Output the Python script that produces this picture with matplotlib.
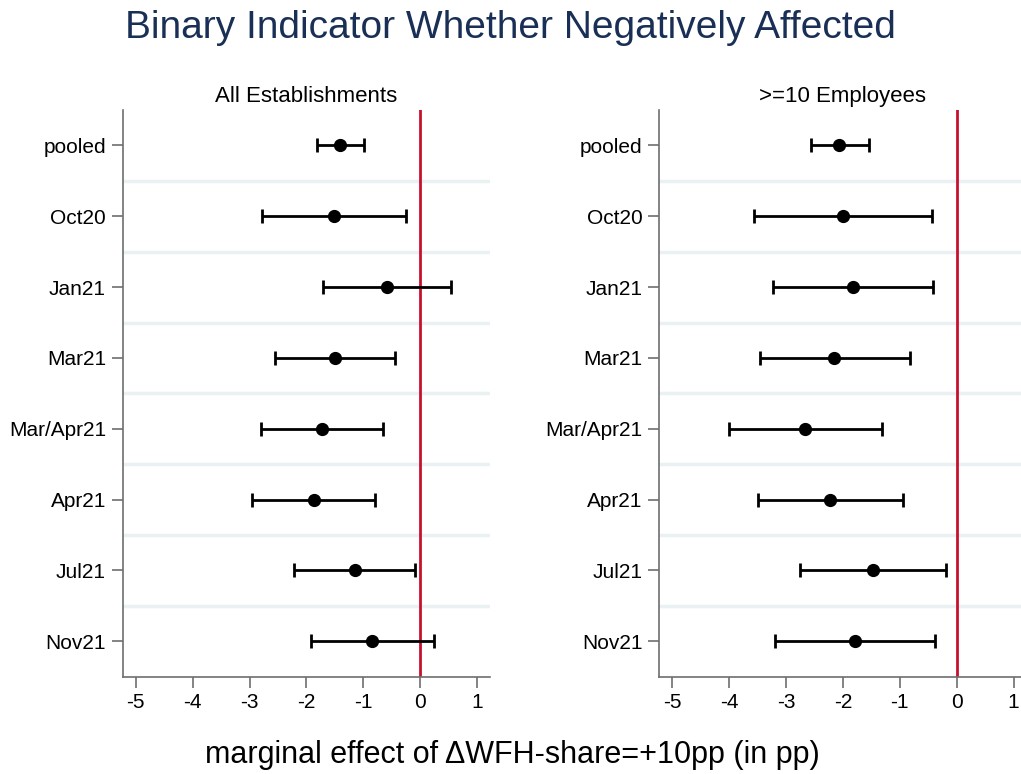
import matplotlib
matplotlib.use("Agg")
from matplotlib import pyplot as plt

plt.rcParams['font.family'] = ['Liberation Sans', 'DejaVu Sans']

categories = ["pooled", "Oct20", "Jan21", "Mar21", "Mar/Apr21", "Apr21", "Jul21", "Nov21"]

# All Establishments
all_est = [-1.41, -1.52, -0.58, -1.50, -1.73, -1.875, -1.15, -0.84]
all_lo = [-1.82, -2.78, -1.71, -2.55, -2.79, -2.96, -2.22, -1.92]
all_hi = [-0.98, -0.25, 0.545, -0.45, -0.65, -0.79, -0.09, 0.24]

# >=10 Employees
big_est = [-2.07, -2.00, -1.83, -2.15, -2.66, -2.22, -1.48, -1.79]
big_lo = [-2.57, -3.56, -3.23, -3.46, -4.00, -3.50, -2.76, -3.20]
big_hi = [-1.55, -0.44, -0.41, -0.82, -1.31, -0.94, -0.19, -0.38]

panels = [
    ("All Establishments", all_est, all_lo, all_hi),
    (">=10 Employees", big_est, big_lo, big_hi),
]

xticks = [-5, -4, -3, -2, -1, 0, 1]
grey = "#6e6e6e"

fig = plt.figure(figsize=(10.21, 7.74), dpi=100)
lefts = [0.1202, 0.6457]

for left, (title, est, lo, hi) in zip(lefts, panels):
    ax = fig.add_axes([left, 0.1257, 0.3598, 0.7322])
    y = list(range(1, len(categories) + 1))
    err = [[e - l for e, l in zip(est, lo)], [h - e for e, h in zip(est, hi)]]

    # light separators between rows
    for k in range(1, len(categories)):
        ax.axhline(k + 0.5, color="#eaf1f3", lw=2.5, zorder=0)

    ax.axvline(0, color="#c8102e", lw=2, zorder=1)
    ax.errorbar(est, y, xerr=err, fmt="o", color="black", ms=8.5,
                elinewidth=2, capsize=5, capthick=2, zorder=3)

    ax.set_xlim(-5.23, 1.23)
    ax.set_ylim(len(categories) + 0.5, 0.5)
    ax.set_yticks(y)
    ax.set_yticklabels(categories, fontsize=15)
    ax.set_xticks(xticks)
    ax.set_xticklabels([str(t) for t in xticks], fontsize=15)
    ax.tick_params(axis="both", color=grey, length=8, width=1.2, pad=4)
    for side in ["top", "right"]:
        ax.spines[side].set_visible(False)
    for side in ["left", "bottom"]:
        ax.spines[side].set_color(grey)
        ax.spines[side].set_linewidth(1.2)
    ax.set_title(title, fontsize=16, pad=6)

fig.text(0.5, 0.964, "Binary Indicator Whether Negatively Affected",
         ha="center", va="center", fontsize=28, color="#1a2f55")
fig.text(0.502, 0.0245, "marginal effect of \u0394WFH-share=+10pp (in pp)",
         ha="center", va="center", fontsize=22)

fig.savefig("out.png", dpi=100)
